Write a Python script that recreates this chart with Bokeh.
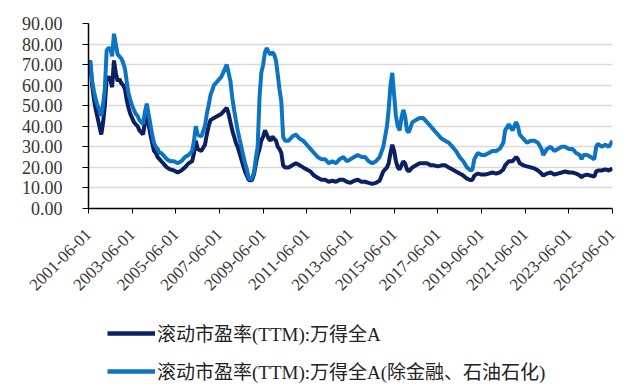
import math
import pandas as pd
from bokeh.plotting import figure
from bokeh.layouts import column
from bokeh.models import (FixedTicker, NumeralTickFormatter, DatetimeTickFormatter,
                          Legend, LegendItem, Range1d, ColumnDataSource)
from bokeh.embed import file_html
from bokeh.resources import INLINE

# ---------------- data ----------------
dates = [
    "2001-06", "2001-07", "2001-08", "2001-09", "2001-10", "2001-11", "2001-12",
    "2002-01", "2002-02", "2002-03", "2002-04", "2002-05", "2002-06", "2002-07", "2002-08", "2002-09", "2002-10", "2002-11", "2002-12",
    "2003-01", "2003-02", "2003-03", "2003-04", "2003-05", "2003-06", "2003-07", "2003-08", "2003-09", "2003-10", "2003-11", "2003-12",
    "2004-01", "2004-02", "2004-03", "2004-04", "2004-05", "2004-06", "2004-07", "2004-08", "2004-09", "2004-10", "2004-11", "2004-12",
    "2005-01", "2005-03", "2005-05", "2005-07", "2005-09", "2005-11",
    "2006-01", "2006-03", "2006-04", "2006-05", "2006-06", "2006-08", "2006-10", "2006-11", "2006-12",
    "2007-01", "2007-03", "2007-05", "2007-07", "2007-08", "2007-10", "2007-11", "2007-12",
    "2008-01", "2008-02", "2008-03", "2008-04", "2008-05", "2008-06", "2008-07", "2008-08", "2008-09", "2008-10", "2008-11", "2008-12",
    "2009-01", "2009-02", "2009-03", "2009-04", "2009-05", "2009-06", "2009-07", "2009-08", "2009-09", "2009-10", "2009-11", "2009-12",
    "2010-01", "2010-02", "2010-03", "2010-04", "2010-05", "2010-06", "2010-08", "2010-10", "2010-12",
    "2011-02", "2011-04", "2011-06", "2011-08", "2011-10", "2011-12",
    "2012-02", "2012-04", "2012-06", "2012-08", "2012-10", "2012-12",
    "2013-02", "2013-04", "2013-06", "2013-08", "2013-10", "2013-12",
    "2014-02", "2014-04", "2014-06", "2014-08", "2014-10", "2014-12",
    "2015-02", "2015-03", "2015-04", "2015-05", "2015-06", "2015-07", "2015-08", "2015-09", "2015-10", "2015-11", "2015-12",
    "2016-01", "2016-02", "2016-04", "2016-06", "2016-08", "2016-10", "2016-12",
    "2017-02", "2017-04", "2017-06", "2017-08", "2017-10", "2017-12",
    "2018-02", "2018-04", "2018-06", "2018-08", "2018-10", "2018-12",
    "2019-01", "2019-02", "2019-04", "2019-06", "2019-08", "2019-10", "2019-12",
    "2020-02", "2020-04", "2020-06", "2020-07", "2020-09", "2020-11",
    "2021-01", "2021-02", "2021-03", "2021-05", "2021-07", "2021-09", "2021-11",
    "2022-01", "2022-03", "2022-04", "2022-06", "2022-08", "2022-10", "2022-12",
    "2023-02", "2023-04", "2023-06", "2023-08", "2023-10", "2023-12",
    "2024-01", "2024-02", "2024-04", "2024-06", "2024-08", "2024-09", "2024-10", "2024-12",
    "2025-02", "2025-04", "2025-06",
]

pe_ex_fin = [
    70, 72, 62, 57, 53, 50, 48,
    45, 51, 58, 77, 78, 78, 74, 85, 80, 75, 74, 73,
    71, 68, 62, 56, 53, 50, 48, 46, 45, 43, 42, 41,
    47, 51, 46, 41, 36, 32, 30, 29, 27, 27, 26, 25,
    24, 23, 23, 22, 23, 25,
    26, 28, 33, 40, 36, 35, 40, 46, 50,
    55, 60, 62, 64, 66, 70, 66, 62,
    54, 48, 43, 38, 34, 30, 26, 22, 19, 15, 14, 15,
    18, 25, 30, 54, 66, 70, 76, 78, 76, 75, 76, 75,
    72, 65, 58, 52, 35, 33, 33, 35, 36,
    34, 33, 31, 29, 27, 25,
    24, 24, 22, 23, 22, 24,
    25, 23, 24, 25, 26, 25,
    25, 23, 22, 23, 25, 30,
    40, 48, 60, 66, 55, 45, 40, 38, 44, 48, 45,
    38, 37, 42, 43, 44, 44, 42,
    40, 38, 36, 34, 33, 32,
    30, 28, 25, 23, 20, 18.5,
    19, 24, 27, 26, 26, 27, 28,
    28, 29, 32, 38, 41, 38,
    42, 40, 36, 34, 32, 33, 33,
    32, 29, 26, 29, 30, 28, 29,
    30, 30, 29, 29, 27, 26,
    24, 26, 26, 25, 24, 30, 31.5, 30,
    31, 30, 33,
]

pe_all_a = [
    70, 71, 60, 53, 48, 44, 40,
    36, 42, 50, 63, 64, 63, 59, 72, 66, 62, 63, 61,
    60, 58, 53, 49, 46, 44, 42, 41, 40, 38, 37, 36,
    42, 46, 41, 36, 32, 28, 27, 25, 24, 23, 22, 21,
    20, 19, 18.5, 17.5, 18.5, 20,
    22, 23, 27, 33, 29, 28, 31, 36, 40,
    43, 44, 45, 46, 47, 49, 46, 42,
    38, 35, 32, 30, 27, 24, 21, 18, 16, 14, 13.6, 14,
    17, 22, 26, 29, 33, 35, 38, 36, 34, 33, 35, 34,
    33, 30, 29, 27, 21, 20, 20, 21, 22,
    21, 20, 19, 18, 16, 15,
    14, 14, 13, 13.5, 13, 14,
    14, 13, 12.5, 13.5, 14, 13,
    13, 12.5, 12, 12.5, 13.5, 18,
    20, 22, 27, 31, 28, 23, 20, 19, 21, 23, 22,
    19, 18, 20, 21, 22, 22, 22,
    21, 21, 20.5, 21, 21, 20,
    19, 18, 17, 16, 14.5, 13.8,
    14, 16, 17, 16.5, 16.5, 17, 17.5,
    17, 17.5, 19, 21, 23, 23,
    25, 24, 22, 21, 20.5, 20, 19.5,
    18.5, 17, 16, 17, 17.5, 16.5, 17,
    17.5, 18, 17.5, 17.5, 17, 16,
    15.2, 16, 16.5, 16, 15.5, 18, 18.5, 18.5,
    19, 18.5, 19.5,
]

name_all = "滚动市盈率(TTM):万得全A"
name_ex = "滚动市盈率(TTM):万得全A(除金融、石油石化)"
tick_years = list(range(2001, 2026, 2))
y_ticks = [0, 10, 20, 30, 40, 50, 60, 70, 80, 90]

color_all = "#0b1f63"
color_ex = "#0d74c4"

# ---------------- main chart ----------------
src = ColumnDataSource(dict(
    date=pd.to_datetime([d + "-01" for d in dates]),
    ex=pe_ex_fin,
    alla=pe_all_a,
))

p = figure(width=627, height=300, output_backend="svg", toolbar_location=None,
           x_axis_type="datetime",
           x_range=Range1d(pd.Timestamp("2001-06-01"), pd.Timestamp("2025-06-01")),
           y_range=Range1d(0, 90),
           min_border_left=88, min_border_right=15, min_border_top=23,
           min_border_bottom=92)
p.outline_line_color = None
p.background_fill_color = "white"

p.line("date", "alla", source=src, line_color=color_all, line_width=4)
p.line("date", "ex", source=src, line_color=color_ex, line_width=4)

p.xgrid.visible = False
p.ygrid.ticker = FixedTicker(ticks=y_ticks[1:])
p.ygrid.grid_line_color = "#d9d9d9"
p.ygrid.grid_line_width = 1.5

label_font = "Liberation Serif"

p.yaxis.ticker = FixedTicker(ticks=y_ticks)
p.yaxis.formatter = NumeralTickFormatter(format="0.00")
p.yaxis.axis_line_color = "black"
p.yaxis.axis_line_width = 1.5
p.yaxis.major_tick_out = 6
p.yaxis.major_tick_in = 0
p.yaxis.major_tick_line_color = "black"
p.yaxis.minor_tick_line_color = None
p.yaxis.major_label_standoff = 20
p.yaxis.major_label_text_font = label_font
p.yaxis.major_label_text_font_size = "18px"
p.yaxis.major_label_text_color = "#3a3330"

tick_ms = [pd.Timestamp(f"{y}-06-01").value / 1e6 for y in tick_years]
p.xaxis.ticker = FixedTicker(ticks=tick_ms)
fmt = "%Y-%m-%d"
p.xaxis.formatter = DatetimeTickFormatter(years=fmt, months=fmt, days=fmt, hours=fmt,
                                          minutes=fmt, seconds=fmt, milliseconds=fmt,
                                          microseconds=fmt)
p.xaxis.major_label_orientation = math.pi / 4
p.xaxis.axis_line_color = "black"
p.xaxis.axis_line_width = 1.5
p.xaxis.major_tick_out = 5
p.xaxis.major_tick_in = 0
p.xaxis.major_tick_line_color = "black"
p.xaxis.minor_tick_line_color = None
p.xaxis.major_label_standoff = 18
p.xaxis.major_label_text_font = label_font
p.xaxis.major_label_text_font_size = "17px"
p.xaxis.major_label_text_color = "#3a3330"

# ---------------- legend strip below ----------------
# the same series are attached here (outside this strip's visible range) so the
# legend can draw its line samples
pl = figure(width=627, height=88, output_backend="svg", toolbar_location=None,
            x_range=Range1d(0, 1), y_range=Range1d(0, 1),
            x_axis_location=None, y_axis_location=None,
            min_border_left=0, min_border_right=0, min_border_top=0, min_border_bottom=0)
pl.outline_line_color = None
pl.xgrid.visible = False
pl.ygrid.visible = False
l_all = pl.line("date", "alla", source=src, line_color=color_all, line_width=4.5)
l_ex = pl.line("date", "ex", source=src, line_color=color_ex, line_width=4.5)

legend = Legend(items=[LegendItem(label=name_all, renderers=[l_all]),
                       LegendItem(label=name_ex, renderers=[l_ex])],
                location=(19, 4), orientation="vertical",
                border_line_alpha=0, background_fill_alpha=0,
                padding=0, margin=0, spacing=11,
                glyph_width=48, glyph_height=20, label_height=20,
                label_standoff=2,
                label_text_font="Liberation Serif, Noto Sans CJK SC",
                label_text_font_size="19px", label_text_color="#222222")
pl.add_layout(legend)

layout = column(p, pl, spacing=0)
open("out.html", "w").write(file_html(layout, INLINE))
